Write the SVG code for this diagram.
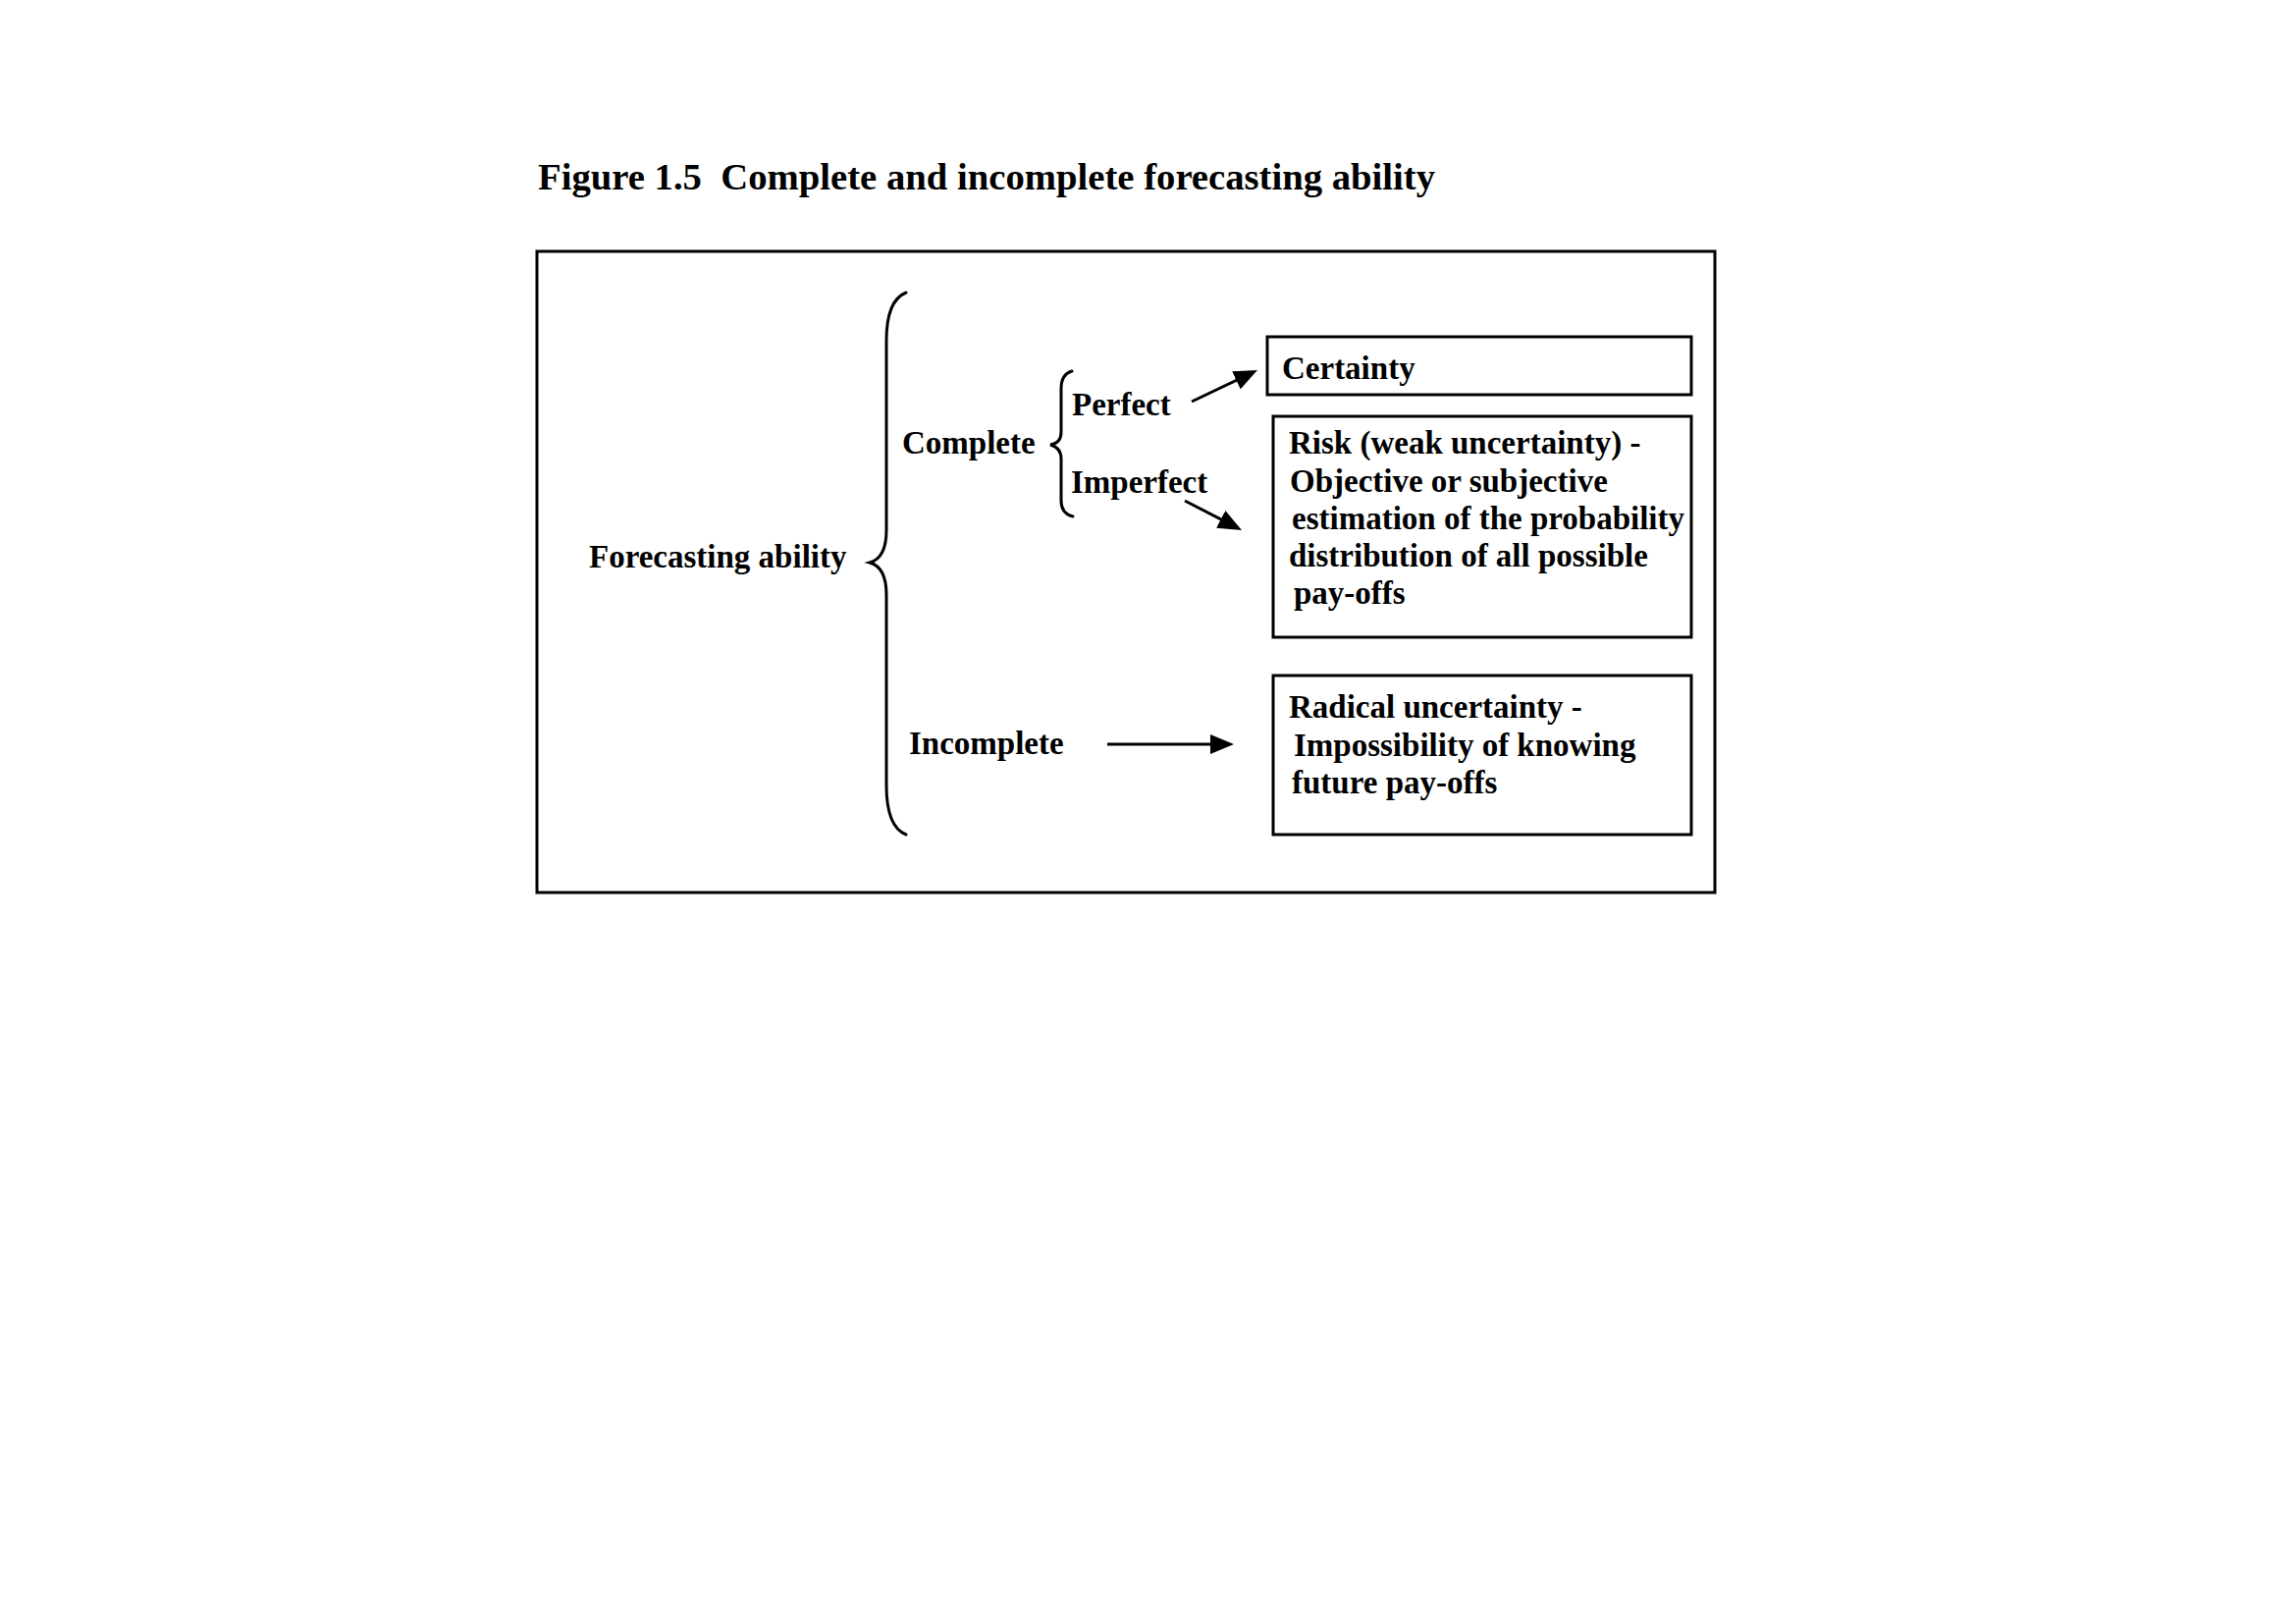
<svg xmlns="http://www.w3.org/2000/svg" width="2339" height="1654" viewBox="0 0 2339 1654">
<style>
  .t { font-family: "Liberation Serif", "Times New Roman", serif; font-weight: bold; font-size: 33px; fill: #000; }
  .title { font-family: "Liberation Serif", "Times New Roman", serif; font-weight: bold; font-size: 38.7px; fill: #000; white-space: pre; }
  .box { fill: #fff; stroke: #000; stroke-width: 3; }
  .brace { fill: none; stroke: #000; stroke-width: 3; stroke-linecap: round; }
  .conn { fill: none; stroke: #000; stroke-width: 3; }
</style>
<defs>
  <marker id="arrow" markerUnits="userSpaceOnUse" markerWidth="24" markerHeight="20" viewBox="0 0 24 20" refX="18" refY="10" orient="auto">
    <path d="M0,0 L24,10 L0,20 Z" fill="#000"/>
  </marker>
</defs>
<rect width="2339" height="1654" fill="#fff"/>
<text class="title" x="548" y="193" xml:space="preserve">Figure 1.5  Complete and incomplete forecasting ability</text>
<rect id="frame" class="box" x="547" y="256" width="1200" height="653"/>

<g id="node-forecasting">
  <text class="t" x="600" y="578">Forecasting ability</text>
  <path class="brace" d="M923,298 C908,304 903,325 903,347 L903,540 C903,560 897,570 886,573 C897,576 903,586 903,606 L903,800 C903,825 908,844 923,850"/>
</g>
<g id="node-complete">
  <text class="t" x="919" y="462">Complete</text>
  <path class="brace" d="M1092,378 C1085,380 1081,386 1081,396 L1081,440 C1081,448 1077,452 1070,453 C1077,455 1081,459 1081,467 L1081,510 C1081,519 1085,524 1093,526"/>
</g>
<g id="node-perfect">
  <text class="t" x="1092" y="423">Perfect</text>
</g>
<g id="node-imperfect">
  <text class="t" x="1091" y="502">Imperfect</text>
</g>
<g id="node-incomplete">
  <text class="t" x="926" y="768">Incomplete</text>
</g>
<g id="node-certainty">
  <rect class="box" x="1291" y="343" width="432" height="59"/>
  <text class="t" x="1306" y="386">Certainty</text>
</g>
<g id="node-risk">
  <rect class="box" x="1297" y="424" width="426" height="225"/>
  <text class="t" x="1313" y="462">Risk (weak uncertainty) -</text>
  <text class="t" x="1314" y="501">Objective or subjective</text>
  <text class="t" x="1316" y="539">estimation of the probability</text>
  <text class="t" x="1313" y="577">distribution of all possible</text>
  <text class="t" x="1318" y="615">pay-offs</text>
</g>
<g id="node-radical">
  <rect class="box" x="1297" y="688" width="426" height="162"/>
  <text class="t" x="1313" y="731">Radical uncertainty -</text>
  <text class="t" x="1318" y="770">Impossibility of knowing</text>
  <text class="t" x="1316" y="808">future pay-offs</text>
</g>

<g id="connectors">
  <line class="conn" x1="1214" y1="409" x2="1275.6" y2="379.6" marker-end="url(#arrow)"/>
  <line class="conn" x1="1207" y1="510" x2="1259.7" y2="537.2" marker-end="url(#arrow)"/>
  <line class="conn" x1="1128" y1="758" x2="1251" y2="758" marker-end="url(#arrow)"/>
</g>
</svg>
